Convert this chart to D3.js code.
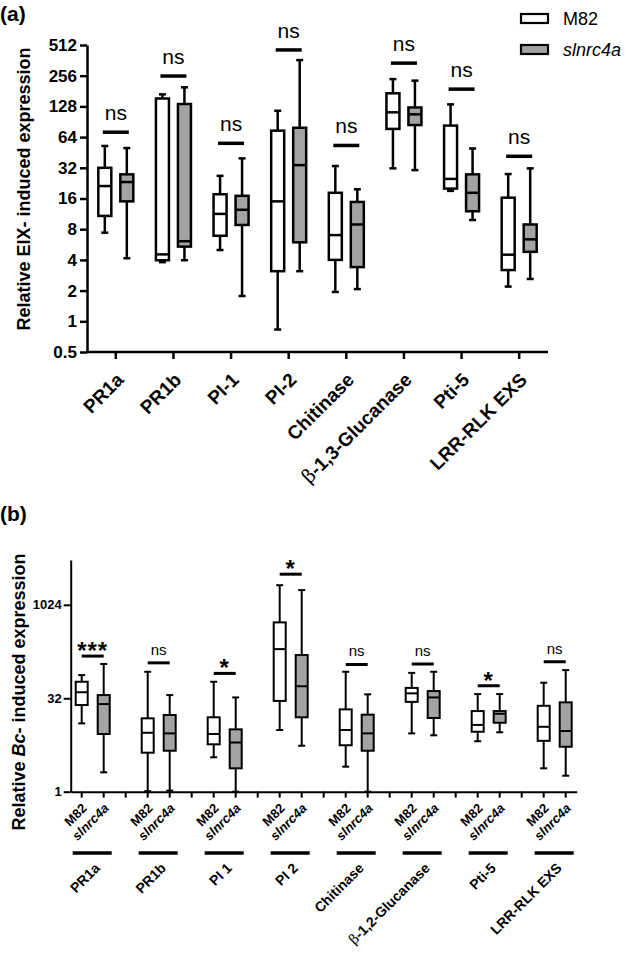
<!DOCTYPE html>
<html><head><meta charset="utf-8">
<script src="https://cdn.jsdelivr.net/npm/d3@7"></script>
<style>
html,body{margin:0;padding:0;background:#fff;}
svg{display:block;font-family:"Liberation Sans",Arial,sans-serif;}
</style></head>
<body><svg id="c" width="633" height="959"></svg>
<script>
// ---------- Panel (a) data ----------
const genesA = ["PR1a","PR1b","PI-1","PI-2","Chitinase","β-1,3-Glucanase","Pti-5","LRR-RLK EXS"];
const yTicksA = [0.5,1,2,4,8,16,32,64,128,256,512];
const m82A_low  = [7.4, 3.8, 5.0, 0.83, 1.94, 31.6, 19, 2.19];
const m82A_q1   = [10.8, 3.97, 6.9, 3.1, 4.0, 77, 20, 3.18];
const m82A_med  = [21.2, 4.53, 11.3, 15, 7.0, 112, 24.9, 4.5];
const m82A_q3   = [32, 153, 17.6, 74, 18.2, 172, 83, 16.3];
const m82A_high = [52.4, 168, 26.7, 116, 33.3, 237, 134, 27.8];
const slA_low   = [4.15, 3.97, 1.77, 3.1, 2.07, 30.4, 9.85, 2.6];
const slA_q1    = [15, 5.4, 8.8, 5.95, 3.4, 84, 12, 4.8];
const slA_med   = [23.2, 6.1, 12.4, 34, 8.9, 107, 18.2, 6.36];
const slA_q3    = [27.6, 135, 17, 79, 14.8, 125, 27.6, 8.9];
const slA_high  = [50, 197, 39.6, 364, 19.7, 229, 49.5, 31.6];
const sigA      = ["ns","ns","ns","ns","ns","ns","ns","ns"];
const sigBarA   = [71.5, 254, 55.6, 458, 53, 340, 189, 41.5];

// ---------- Panel (b) data ----------
const genesB = ["PR1a","PR1b","PI 1","PI 2","Chitinase","β-1,2-Glucanase","Pti-5","LRR-RLK EXS"];
const yTicksB = [1, 32, 1024];
const m82B_low  = [12.6, 1.02, 3.58, 9.85, 2.53, 8.7, 6.5, 2.38];
const m82B_q1   = [24.9, 4.25, 5.8, 29, 5.6, 28, 9.24, 6.6];
const m82B_med  = [40, 8.9, 8.5, 198, 9.85, 38.4, 11.9, 11.1];
const m82B_q3   = [59, 15.2, 15.8, 534, 21.2, 47, 19.9, 24.2];
const m82B_high = [75.6, 85.5, 59, 2120, 85.5, 82, 37.4, 57];
const slB_low   = [2.05, 1.04, 1.0, 5.5, 1.0, 8.1, 9.05, 1.81];
const slB_q1    = [8.5, 4.57, 2.38, 15.8, 4.57, 15.4, 12.9, 5.3];
const slB_med   = [25.8, 8.7, 6.2, 50, 8.7, 33, 18, 9.5];
const slB_q3    = [36, 17.2, 10.1, 159, 17.4, 41.8, 19.9, 27.5];
const slB_high  = [114, 36, 33, 1770, 37, 85.5, 37.4, 91];
const sigB      = ["***","ns","*","*","ns","ns","*","ns"];
const sigBarB   = [153, 119, 80.5, 3190, 112, 114, 50.9, 124];

const seriesNames = ["M82","slnrc4a"];
const fills = ["#ffffff","#a3a3a3"];

const svg = d3.select("#c");

function drawBox(g, cx, w, st, yS, fill, sw){
  const cap = 7;
  g.append("line").attr("x1",cx).attr("x2",cx).attr("y1",yS(st.high)).attr("y2",yS(st.q3)).attr("stroke","#000").attr("stroke-width",sw);
  g.append("line").attr("x1",cx).attr("x2",cx).attr("y1",yS(st.q1)).attr("y2",yS(st.low)).attr("stroke","#000").attr("stroke-width",sw);
  g.append("line").attr("x1",cx-cap/2).attr("x2",cx+cap/2).attr("y1",yS(st.high)).attr("y2",yS(st.high)).attr("stroke","#000").attr("stroke-width",sw);
  g.append("line").attr("x1",cx-cap/2).attr("x2",cx+cap/2).attr("y1",yS(st.low)).attr("y2",yS(st.low)).attr("stroke","#000").attr("stroke-width",sw);
  g.append("rect").attr("x",cx-w/2).attr("width",w).attr("y",yS(st.q3)).attr("height",yS(st.q1)-yS(st.q3))
    .attr("fill",fill).attr("stroke","#000").attr("stroke-width",sw);
  g.append("line").attr("x1",cx-w/2).attr("x2",cx+w/2).attr("y1",yS(st.med)).attr("y2",yS(st.med)).attr("stroke","#000").attr("stroke-width",sw);
}
function labelWithBeta(sel, txt){
  if (txt.startsWith("β")){
    sel.append("tspan").attr("font-family","'DejaVu Serif','Liberation Serif',serif").attr("font-weight","normal").text("β");
    sel.append("tspan").text(txt.slice(1));
  } else sel.text(txt);
}

// ================= Panel (a) =================
const yA = d3.scaleLog().base(2).domain([0.5,512]).range([352,45]);
const xA = d3.scaleBand().domain(genesA).range([87,548]);
const gA = svg.append("g");

svg.append("text").attr("x",0).attr("y",21).attr("font-size",21).attr("font-weight","bold").text("(a)");

const axLA = gA.append("g").attr("transform","translate(87,0)")
  .call(d3.axisLeft(yA).tickValues(yTicksA).tickFormat(d=>d).tickSize(7).tickSizeOuter(0).tickPadding(3));
axLA.selectAll("path,line").attr("stroke","#000").attr("stroke-width",2.5);
axLA.selectAll("text").attr("font-size",17).attr("font-weight","bold").attr("fill","#000").attr("font-family","'Liberation Sans',Arial,sans-serif");

const axBA = gA.append("g").attr("transform","translate(0,352)")
  .call(d3.axisBottom(xA).tickSize(7).tickSizeOuter(0).tickFormat(""));
axBA.selectAll("path,line").attr("stroke","#000").attr("stroke-width",2.5);
axBA.select("path").attr("d","M86,0H548");

genesA.forEach((gname,i)=>{
  const cx = xA(gname)+xA.bandwidth()/2;
  const t = gA.append("text").attr("transform",`translate(${cx+9},${381}) rotate(-45)`)
    .attr("text-anchor","end").attr("font-size",19).attr("font-weight","bold");
  labelWithBeta(t, gname);
  drawBox(gA, cx-11, 13, {low:m82A_low[i],q1:m82A_q1[i],med:m82A_med[i],q3:m82A_q3[i],high:m82A_high[i]}, yA, fills[0], 2.5);
  drawBox(gA, cx+11, 13, {low:slA_low[i],q1:slA_q1[i],med:slA_med[i],q3:slA_q3[i],high:slA_high[i]}, yA, fills[1], 2.5);
  const by = yA(sigBarA[i]);
  gA.append("line").attr("x1",cx-13).attr("x2",cx+13).attr("y1",by).attr("y2",by).attr("stroke","#000").attr("stroke-width",3.5);
  gA.append("text").attr("x",cx).attr("y",by-12).attr("text-anchor","middle").attr("font-size",21).text(sigA[i]);
});

svg.append("text").attr("transform","translate(30,189) rotate(-90)").attr("text-anchor","middle")
  .attr("font-size",18).attr("font-weight","bold").text("Relative EIX- induced expression");

// legend
seriesNames.forEach((s,i)=>{
  const y0 = 14 + i*31;
  svg.append("rect").attr("x",521).attr("y",y0).attr("width",27).attr("height",9).attr("fill",fills[i]).attr("stroke","#000").attr("stroke-width",2.2);
  svg.append("text").attr("x",563).attr("y",y0+11).attr("font-size",18).attr("font-style",i===1?"italic":"normal").text(s);
});

// ================= Panel (b) =================
const slots = [];
genesB.forEach((g,i)=>{ slots.push(g+"|0"); slots.push(g+"|1"); if(i<genesB.length-1) slots.push(g+"|gap"); });
const yB = d3.scaleLog().base(2).domain([1,5400]).range([791.7,560]);
const xB = d3.scaleBand().domain(slots).range([70.7,576.7]);
const gB = svg.append("g");
const sc = k => xB(k)+xB.bandwidth()/2;

svg.append("text").attr("x",0).attr("y",521).attr("font-size",21).attr("font-weight","bold").text("(b)");

const axLB = gB.append("g").attr("transform","translate(70.7,0)")
  .call(d3.axisLeft(yB).tickValues(yTicksB).tickFormat(d=>d).tickSize(7).tickSizeOuter(0).tickPadding(2));
axLB.selectAll("path,line").attr("stroke","#000").attr("stroke-width",2);
axLB.selectAll("text").attr("font-size",13).attr("font-weight","bold").attr("fill","#000").attr("font-family","'Liberation Sans',Arial,sans-serif");

const axBB = gB.append("g").attr("transform","translate(0,791.7)")
  .call(d3.axisBottom(xB).tickSize(6).tickSizeOuter(0).tickFormat(""));
axBB.selectAll("path,line").attr("stroke","#000").attr("stroke-width",2);

genesB.forEach((gname,i)=>{
  const c0 = sc(gname+"|0"), c1 = sc(gname+"|1"), cm = (c0+c1)/2;
  drawBox(gB, c0, 12, {low:m82B_low[i],q1:m82B_q1[i],med:m82B_med[i],q3:m82B_q3[i],high:m82B_high[i]}, yB, fills[0], 2);
  drawBox(gB, c1, 12, {low:slB_low[i],q1:slB_q1[i],med:slB_med[i],q3:slB_q3[i],high:slB_high[i]}, yB, fills[1], 2);
  const by = yB(sigBarB[i]);
  gB.append("line").attr("x1",c0).attr("x2",c1).attr("y1",by).attr("y2",by).attr("stroke","#000").attr("stroke-width",3);
  if (sigB[i]==="ns"){
    gB.append("text").attr("x",cm).attr("y",by-8).attr("text-anchor","middle").attr("font-size",15).text("ns");
  } else {
    gB.append("text").attr("x",cm).attr("y",by+3).attr("text-anchor","middle").attr("font-size",24).attr("font-weight","bold").attr("letter-spacing",1).text(sigB[i]);
  }
  seriesNames.forEach((s,j)=>{
    const cx = j===0?c0:c1;
    gB.append("text").attr("transform",`translate(${cx+6},${809}) rotate(-45)`).attr("text-anchor","end")
      .attr("font-size",13).attr("font-weight","bold").attr("font-style",j===1?"italic":"normal").text(s);
  });
  gB.append("line").attr("x1",c0-9).attr("x2",c1+8).attr("y1",853).attr("y2",853).attr("stroke","#000").attr("stroke-width",3.5);
  const t = gB.append("text").attr("transform",`translate(${cm+8},${869}) rotate(-45)`).attr("text-anchor","end")
    .attr("font-size",14).attr("font-weight","bold");
  labelWithBeta(t, gname);
});

const yl = svg.append("text").attr("transform","translate(25,692) rotate(-90)").attr("text-anchor","middle")
  .attr("font-size",18).attr("font-weight","bold");
yl.append("tspan").text("Relative ");
yl.append("tspan").attr("font-style","italic").text("Bc");
yl.append("tspan").text("- induced expression");
</script></body></html>
